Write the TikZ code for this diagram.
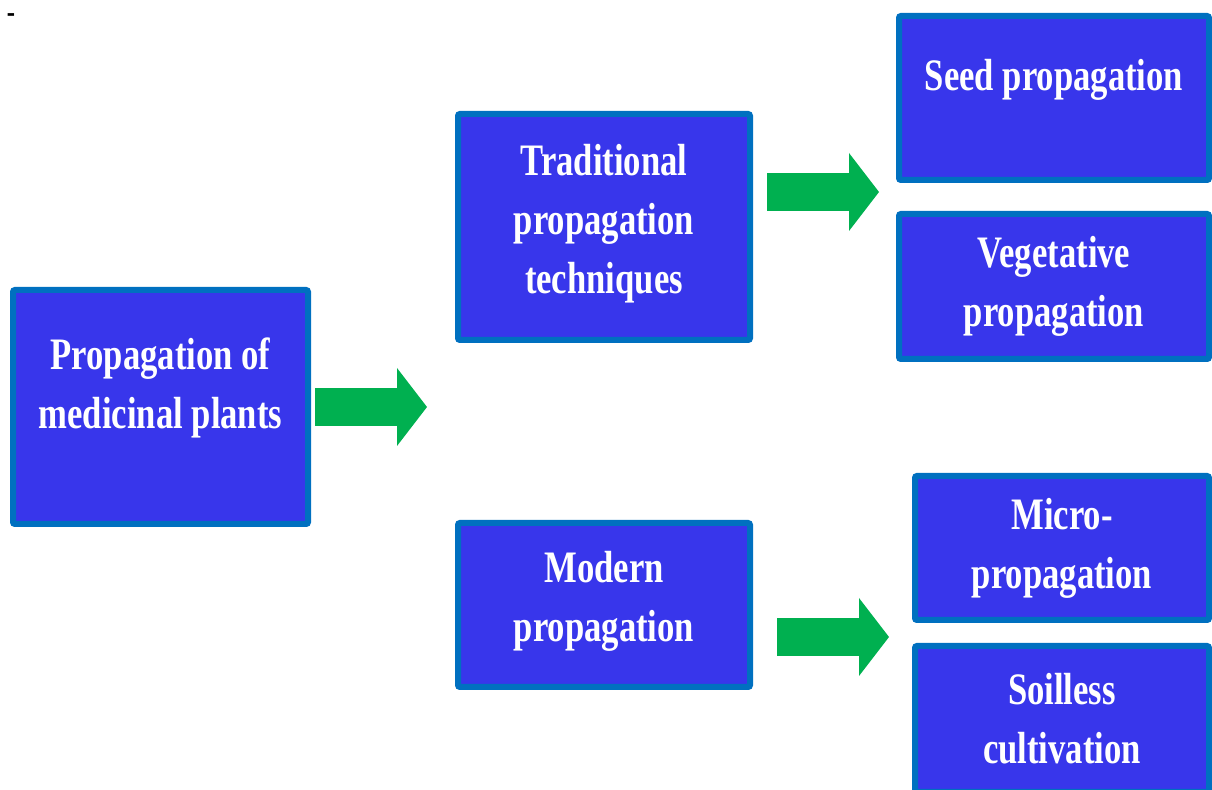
\documentclass[tikz,border=0pt]{standalone}
\usepackage{fontspec}
\newfontfamily\boxfont{Liberation Serif}[FakeStretch=0.77]
\usepackage{tikz}
\usetikzlibrary{arrows.meta, positioning}
\definecolor{boxfill}{RGB}{56,54,235}
\definecolor{boxline}{RGB}{0,112,192}
\definecolor{arrowgreen}{RGB}{0,176,80}
\begin{document}
\begin{tikzpicture}[x=0.5pt, y=-0.5pt,
	box/.style={draw=boxline, fill=boxfill, line width=3pt, rounded corners=1pt, inner sep=0pt, text=white, align=center, font=\boxfont\bfseries\fontsize{22.5}{29.5}\selectfont},
	fatarrow/.style={draw=arrowgreen, line width=19pt, -{Triangle[length=15pt, width=39pt, line width=0pt]}}]
	\useasboundingbox (0,0) rectangle (1212,790);
	\clip (0,0) rectangle (1212,790);
	\node[inner sep=1pt, font=\boxfont\bfseries\fontsize{16}{18}\selectfont] (dash) at (11,18) {-};
	
	\node[box, minimum width=147.5pt, minimum height=117pt] (main) at (160.5,407) {Propagation of\\medicinal plants\\[-6pt]\mbox{}};
	
	\node[box, minimum width=146pt, minimum height=113pt] (trad) at (604,227) {Traditional\\propagation\\techniques\\[-21pt]\mbox{}};
	\node[box, minimum width=146pt, minimum height=82pt] (modern) [below = 88.5pt of trad] {Modern\\propagation\\[-21pt]\mbox{}};
	
	\node[box, minimum width=155pt, minimum height=82pt] (seed) at (1054,98) {Seed propagation\\[-6pt]\mbox{}};
	\node[box, minimum width=155pt, minimum height=72.5pt] (veg) [below = 14pt of seed] {Vegetative\\propagation};
	
	\node[box, minimum width=147pt, minimum height=72pt] (micro) at (1062,548) {Micro-\\propagation};
	\node[box, minimum width=147pt, minimum height=73pt] (soil) [below = 10pt of micro] {Soilless\\cultivation};
	
	\coordinate (split1) at (427,407);
	\coordinate (split2) at (879,192);
	\coordinate (split3) at (889,637);
	
	\draw[fatarrow, shorten <=2pt] (main.east |- split1) -- (split1);
	\draw[fatarrow, shorten <=7pt] (trad.east |- split2) -- (split2);
	\draw[fatarrow, shorten <=12pt] (modern.east |- split3) -- (split3);
\end{tikzpicture}
\end{document}
